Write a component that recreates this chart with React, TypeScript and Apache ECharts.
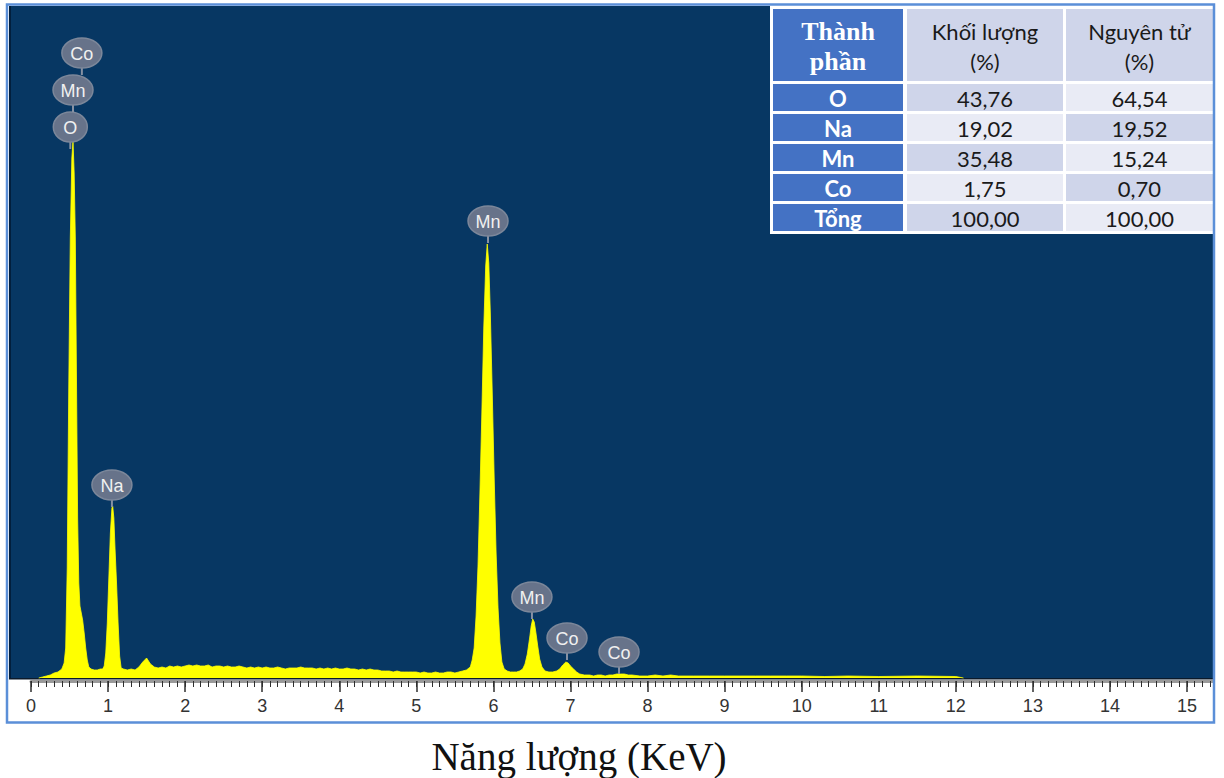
import React, { useEffect, useRef } from "react";
import * as echarts from "echarts";

// EDX spectrum: [energy (keV), counts]
const spectrum: [number, number][] = [
  [0.1, 0], [0.15, 1], [0.2, 2], [0.25, 3], [0.3, 5], [0.35, 6], [0.4, 9], [0.43, 15],
  [0.45, 30], [0.47, 110], [0.49, 290], [0.51, 440], [0.53, 520], [0.545, 537], [0.56, 505],
  [0.575, 440], [0.59, 300], [0.605, 160], [0.62, 95], [0.635, 72], [0.65, 66], [0.67, 58],
  [0.69, 45], [0.71, 30], [0.73, 18], [0.75, 11], [0.78, 9], [0.82, 8], [0.86, 8], [0.9, 9],
  [0.93, 9], [0.95, 12], [0.97, 25], [0.99, 55], [1.01, 100], [1.03, 145], [1.05, 170],
  [1.06, 172], [1.075, 160], [1.09, 130], [1.11, 95], [1.13, 55], [1.15, 22], [1.17, 10],
  [1.2, 9], [1.25, 8], [1.3, 9], [1.35, 8], [1.4, 11], [1.45, 16], [1.5, 20], [1.55, 14],
  [1.6, 11], [1.65, 10], [1.7, 11], [1.75, 10], [1.8, 12], [1.85, 11], [1.9, 12], [1.95, 11],
  [2.0, 12], [2.05, 13], [2.1, 12], [2.15, 13], [2.2, 12], [2.25, 12], [2.3, 13], [2.35, 11],
  [2.4, 12], [2.45, 12], [2.5, 11], [2.55, 12], [2.6, 11], [2.65, 11], [2.7, 12], [2.75, 11],
  [2.8, 10], [2.85, 11], [2.9, 10], [2.95, 11], [3.0, 10], [3.05, 11], [3.1, 10], [3.15, 10],
  [3.2, 11], [3.25, 10], [3.3, 9], [3.35, 10], [3.4, 10], [3.45, 10], [3.5, 11], [3.55, 10],
  [3.6, 10], [3.65, 10], [3.7, 9], [3.75, 10], [3.8, 9], [3.85, 10], [3.9, 9], [3.95, 10],
  [4.0, 9], [4.05, 9], [4.1, 10], [4.15, 9], [4.2, 9], [4.25, 8], [4.3, 9], [4.35, 8],
  [4.4, 9], [4.45, 8], [4.5, 8], [4.55, 7], [4.6, 7], [4.65, 7], [4.7, 6], [4.75, 7],
  [4.8, 6], [4.85, 6], [4.9, 6], [4.95, 6], [5.0, 6], [5.05, 5], [5.1, 6], [5.15, 5],
  [5.2, 5], [5.25, 6], [5.3, 5], [5.35, 5], [5.4, 6], [5.45, 6], [5.5, 5], [5.55, 6],
  [5.6, 7], [5.65, 8], [5.7, 11], [5.725, 18], [5.75, 30], [5.775, 62], [5.8, 112],
  [5.825, 185], [5.85, 265], [5.875, 350], [5.9, 412], [5.92, 434], [5.94, 415], [5.96, 365],
  [5.985, 285], [6.01, 200], [6.035, 125], [6.06, 70], [6.085, 35], [6.11, 16], [6.14, 9],
  [6.18, 7], [6.22, 6], [6.26, 6], [6.3, 6], [6.34, 7], [6.38, 9], [6.41, 14], [6.44, 24],
  [6.47, 40], [6.49, 52], [6.51, 59], [6.53, 56], [6.55, 46], [6.575, 32], [6.6, 19],
  [6.63, 11], [6.67, 7], [6.72, 6], [6.77, 6], [6.82, 7], [6.86, 9], [6.9, 13], [6.94, 16],
  [6.97, 15], [7.0, 12], [7.04, 9], [7.08, 6], [7.12, 4], [7.18, 3], [7.25, 3], [7.3, 2],
  [7.35, 3], [7.4, 3], [7.45, 2], [7.5, 3], [7.55, 3], [7.6, 4], [7.65, 4], [7.7, 4],
  [7.75, 3], [7.8, 3], [7.9, 2], [8.0, 2], [8.1, 3], [8.2, 2], [8.3, 3], [8.4, 2], [8.6, 2],
  [8.8, 2], [9.0, 2], [9.2, 2], [9.4, 2], [9.6, 2], [9.8, 2], [10.0, 2], [10.3, 1.5],
  [10.6, 2], [11.0, 1.5], [11.5, 2], [12.0, 1.5], [12.1, 0],
];

// Peak identification labels
const peakLabelNames = ["O", "Mn", "Co", "Na", "Mn", "Mn", "Co", "Co"];
const peakLabelEnergies = [0.51, 0.545, 0.66, 1.05, 5.93, 6.5, 6.955, 7.63];
const peakLabelCounts = [529, 529, 529, 171, 435, 59, 18, 4];

// Composition table
const tableHeaders = ["Thành\nphần", "Khối lượng\n(%)", "Nguyên tử\n(%)"];
const tableElements = ["O", "Na", "Mn", "Co", "Tổng"];
const massPercent = [43.76, 19.02, 35.48, 1.75, 100.0];
const atomicPercent = [64.54, 19.52, 15.24, 0.7, 100.0];

const xAxisTitle = "Năng lượng (KeV)";
const energyMin = 0;
const energyMax = 15.35;

const fmt = (v: number) => v.toFixed(2).replace(".", ",");

function buildTable(): any[] {
  const els: any[] = [];
  const colX = [773, 907, 1066];
  const colW = [130, 156, 147];
  const rowY = [9, 84, 114, 144, 174, 204];
  const rowH = [72, 27, 27, 27, 27, 27];
  const light = "#e9ebf5";
  const dark = "#cfd5ea";
  els.push({ type: "rect", shape: { x: 770, y: 5, width: 444, height: 229 }, style: { fill: "#ffffff" }, z: 50 });
  for (let r = 0; r < 6; r++) {
    for (let c = 0; c < 3; c++) {
      let fill = "#4472c4";
      if (c > 0) {
        if (r === 0) fill = dark;
        else fill = ((r - 1 + (c - 1)) % 2 === 0) ? dark : light;
      }
      els.push({
        type: "rect",
        shape: { x: colX[c], y: rowY[r], width: colW[c], height: rowH[r] },
        style: { fill },
        z: 51,
      });
      let text = "";
      let font = '22px Lato, "Open Sans", sans-serif';
      let color = "#1a1a1a";
      if (r === 0) {
        text = tableHeaders[c];
        if (c === 0) { font = 'bold 26px "Liberation Serif", serif'; color = "#ffffff"; }
      } else {
        const i = r - 1;
        if (c === 0) { text = tableElements[i]; font = 'bold 22px Lato, "Open Sans", sans-serif'; color = "#ffffff"; }
        else if (c === 1) text = fmt(massPercent[i]);
        else text = fmt(atomicPercent[i]);
      }
      els.push({
        type: "text",
        x: colX[c] + colW[c] / 2,
        y: rowY[r] + rowH[r] / 2 + 1,
        z: 52,
        style: {
          text,
          font,
          fill: color,
          align: "center",
          verticalAlign: "middle",
          textAlign: "center",
          textVerticalAlign: "middle",
          lineHeight: 30,
        },
      });
    }
  }
  return els;
}

export default function App() {
  const ref = useRef<HTMLDivElement>(null);
  useEffect(() => {
    if (!ref.current) return;
    const chart = echarts.init(ref.current, null, { renderer: "svg" });
    const labelData = peakLabelNames.map((n, i) => [peakLabelEnergies[i], peakLabelCounts[i], i]);
    const levels = peakLabelEnergies.map((e, i) => {
      let l = 0;
      for (let j = 0; j < i; j++) if (Math.abs(peakLabelEnergies[j] - e) < 0.2) l++;
      return l;
    });
    const option: any = {
      animation: false,
      backgroundColor: "#ffffff",
      grid: { left: 31, right: 10, top: 6, height: 675, containLabel: false },
      xAxis: [
        {
          // fine ruler ticks every 0.1 keV
          type: "value",
          min: energyMin,
          max: energyMax,
          interval: 0.1,
          position: "bottom",
          splitLine: { show: false },
          axisLine: { show: true, onZero: false, lineStyle: { color: "#9a9a9a", width: 3 } },
          axisTick: { show: true, length: 6, lineStyle: { color: "#2e2e2e", width: 1 } },
          axisLabel: { show: false },
        },
        {
          // major ticks and labels every 1 keV
          type: "value",
          min: energyMin,
          max: energyMax,
          interval: 1,
          position: "bottom",
          splitLine: { show: false },
          axisLine: { show: false, onZero: false },
          axisTick: { show: true, length: 11, lineStyle: { color: "#2e2e2e", width: 1.5 } },
          axisLabel: {
            fontSize: 18,
            color: "#333333",
            margin: 16,
            fontFamily: '"Liberation Sans", Arial, sans-serif',
            formatter: (v: number) => (Math.abs(v - Math.round(v)) < 1e-6 ? String(Math.round(v)) : ""),
          },
        },
      ],
      yAxis: {
        type: "value",
        min: -3,
        max: 672,
        show: false,
        splitLine: { show: false },
      },
      series: [
        {
          type: "line",
          xAxisIndex: 0,
          data: spectrum,
          symbol: "none",
          lineStyle: { width: 0.8, color: "#ffff00" },
          areaStyle: { color: "#ffff00", opacity: 1 },
          z: 3,
        },
        {
          type: "custom",
          xAxisIndex: 0,
          data: labelData,
          z: 5,
          clip: false,
          renderItem: (params: any, api: any) => {
            const idx = params.dataIndex;
            const name = peakLabelNames[idx];
            const level = levels[idx];
            const p = api.coord([api.value(0), api.value(1)]);
            const ry = 15;
            const rx = name.length > 1 ? 20 : 17;
            const cy = p[1] - 22 - level * 37;
            const stemBottom = level === 0 ? p[1] : cy + 37 - ry;
            return {
              type: "group",
              children: [
                {
                  type: "line",
                  shape: { x1: p[0], y1: stemBottom, x2: p[0], y2: cy + ry },
                  style: { stroke: "#8791a3", lineWidth: 2 },
                },
                {
                  type: "ellipse",
                  shape: { cx: p[0], cy, rx, ry },
                  style: { fill: "#67738a", stroke: "#7c879a", lineWidth: 1.5 },
                },
                {
                  type: "text",
                  x: p[0],
                  y: cy + 1,
                  style: {
                    text: name,
                    fill: "#f0f0f0",
                    font: '18px "Liberation Sans", Arial, sans-serif',
                    align: "center",
                    verticalAlign: "middle",
                    textAlign: "center",
                    textVerticalAlign: "middle",
                  },
                },
              ],
            };
          },
        },
      ],
      graphic: {
        elements: [
          { type: "rect", shape: { x: 9, y: 6, width: 1204, height: 673 }, style: { fill: "#073763" }, z: -10 },
          { type: "rect", shape: { x: 9, y: 6, width: 2, height: 673 }, style: { fill: "#021f3d" }, z: -9 },
          { type: "rect", shape: { x: 9, y: 678, width: 1204, height: 1.5 }, style: { fill: "#0b1a2b" }, z: -9 },
          { type: "rect", shape: { x: 1214.5, y: 0, width: 10, height: 778 }, style: { fill: "#ffffff" }, z: 90 },
          {
            type: "rect",
            shape: { x: 7, y: 4.5, width: 1207, height: 718 },
            style: { fill: "none", stroke: "#5b8fd8", lineWidth: 2.5 },
            z: 95,
          },
          ...buildTable(),
          {
            type: "text",
            x: 579,
            y: 756,
            z: 60,
            style: {
              text: xAxisTitle,
              font: '39px "Liberation Serif", "Times New Roman", serif',
              fill: "#111111",
              align: "center",
              verticalAlign: "middle",
              textAlign: "center",
              textVerticalAlign: "middle",
            },
          },
        ],
      },
    };
    chart.setOption(option);
    return () => chart.dispose();
  }, []);
  return (
    <div
      ref={ref}
      style={{ position: "absolute", left: 0, top: 0, width: 1224, height: 778 }}
    />
  );
}
